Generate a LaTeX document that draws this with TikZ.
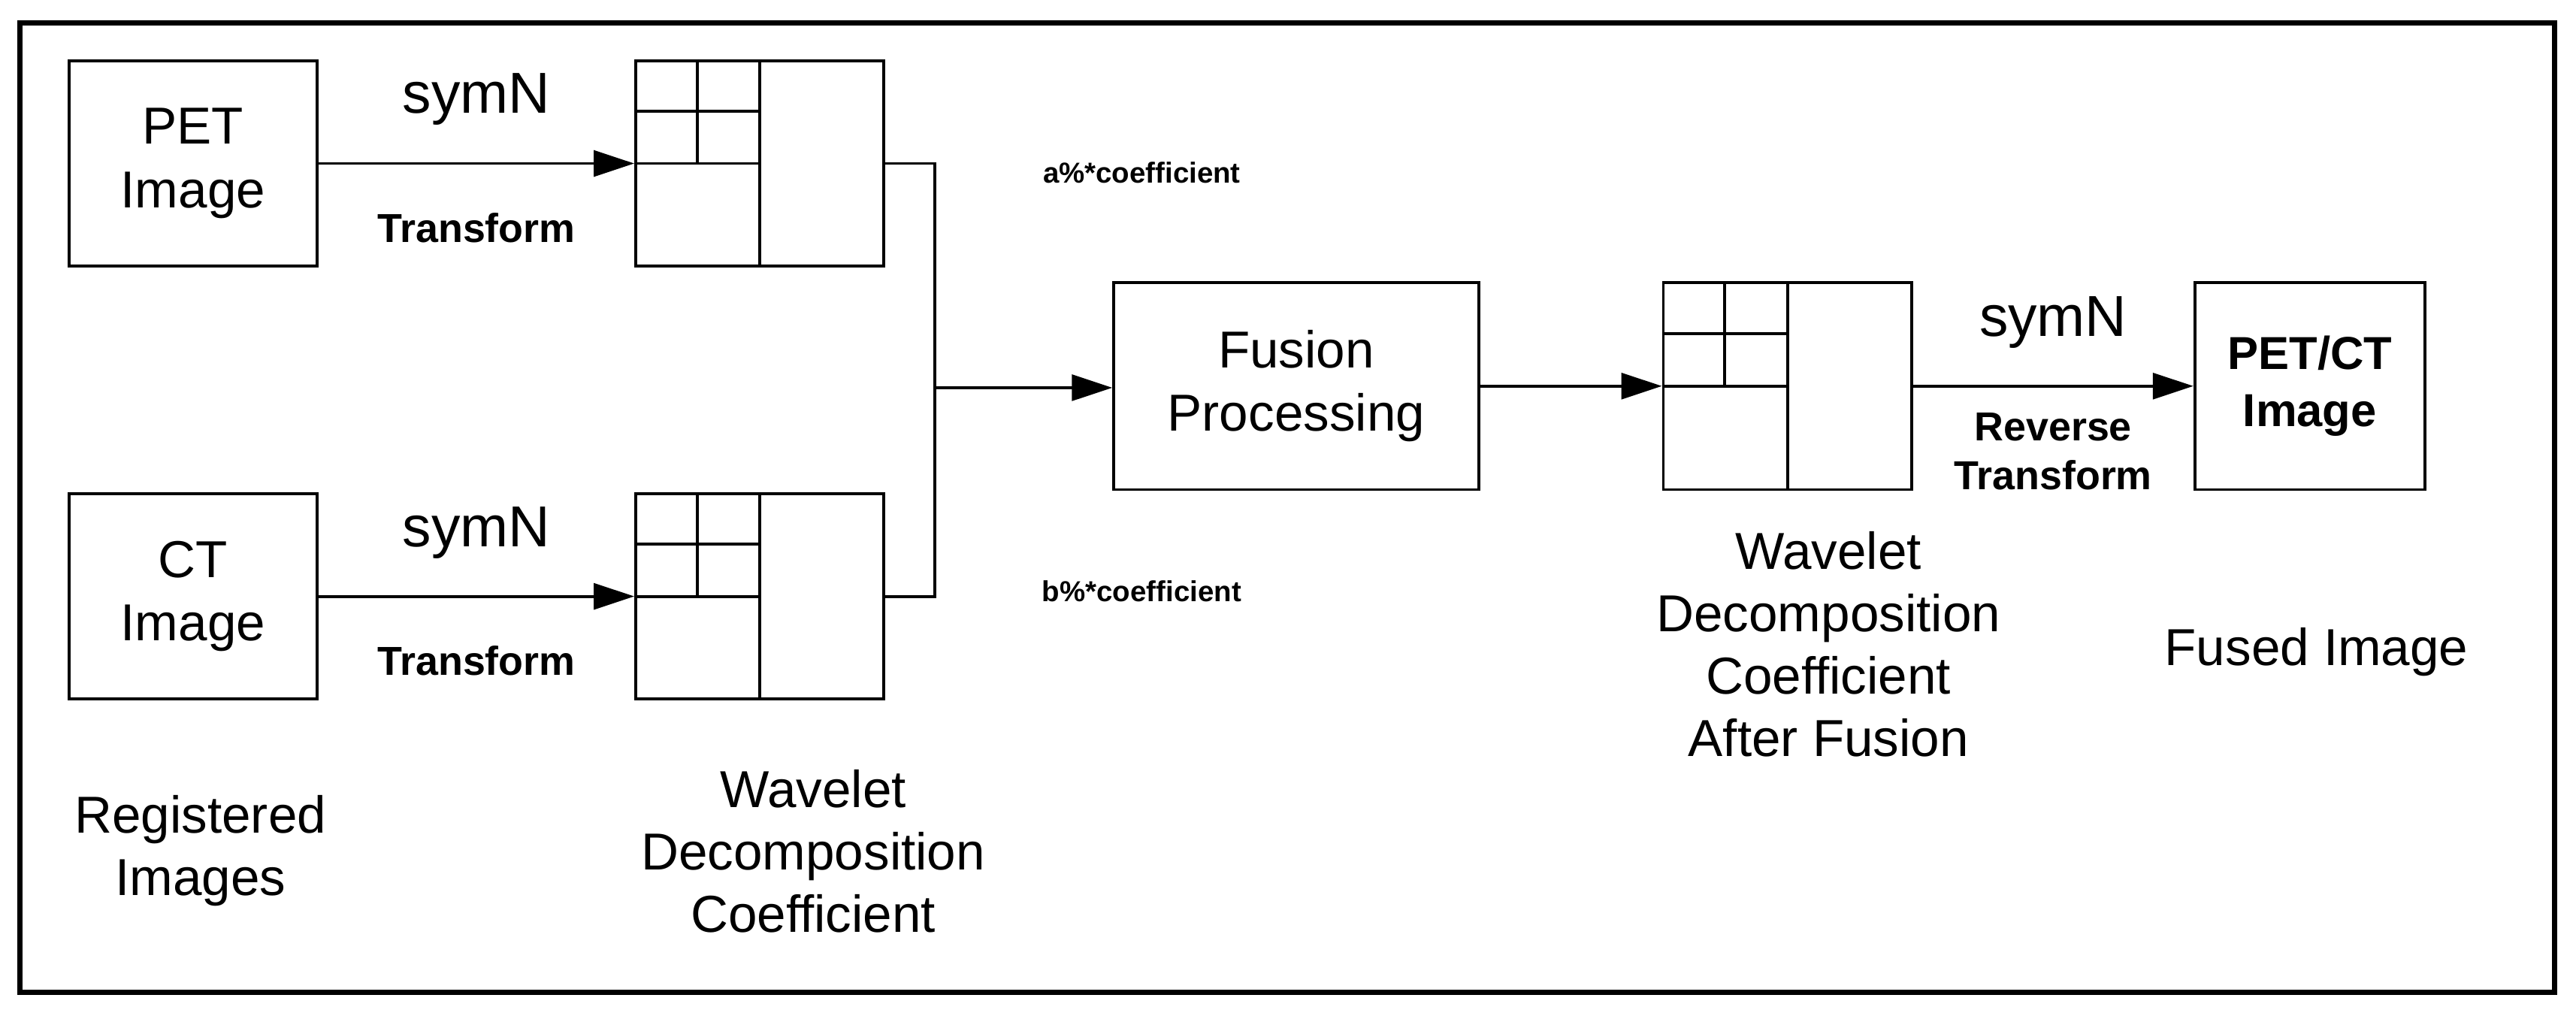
\documentclass[tikz,border=0pt]{standalone}
\usepackage{fontspec}
\setmainfont{Liberation Sans}
\usetikzlibrary{positioning,arrows.meta,calc}

\begin{document}
\begin{tikzpicture}[
    x=0.01cm, y=-0.01cm,
    base/.style = {rectangle, draw=black, line width=0.5pt},
    img/.style = {base, minimum width=1.51cm, minimum height=1.25cm, align=center, font=\fontsize{9}{11}\selectfont},
    grid/.style = {base, minimum width=1.51cm, minimum height=1.25cm},
    lbl/.style = {align=center, font=\fontsize{9}{10.8}\selectfont},
    bold/.style = {font=\fontsize{7}{8.5}\selectfont\bfseries, align=center},
    coef/.style = {font=\fontsize{5}{6}\selectfont\bfseries},
    flow/.style = {line width=0.5pt, -{Triangle[length=7pt,width=4.5pt]}},
]

    % frame
    \useasboundingbox (0,0) rectangle (1568,618);
    \draw[line width=0.9pt] (12,14) rectangle (1555,604);

    % images
    \node[img] (pet) at (117.5,99.5) {PET\\Image};
    \node[img] (ct) at (117.5,363) {CT\\Image};
    \node[img, minimum width=2.22cm, minimum height=1.26cm] (fusion) at (789,235) {Fusion\\Processing};
    \node[img, minimum width=1.4cm, minimum height=1.26cm, font=\fontsize{8}{10}\selectfont\bfseries] (petct) at (1406,235) {PET/CT\\Image};

    % coefficient grids
    \node[grid] (g1) at (462.5,99.5) {};
    \node[grid] (g2) at (462.5,363) {};
    \node[grid, minimum height=1.26cm] (g3) at (1088,235) {};
    \foreach \g in {g1,g2,g3} {
        \draw[line width=0.5pt] (\g.north) -- (\g.south);
        \draw[line width=0.5pt] (\g.west) -- (\g.center);
        \draw[line width=0.5pt] ($(\g.north west)!0.5!(\g.north)$) -- ($(\g.west)!0.5!(\g.center)$);
        \draw[line width=0.5pt] ($(\g.north west)!0.5!(\g.west)$) -- ($(\g.north)!0.5!(\g.center)$);
    }

    % flows
    \coordinate (join) at (569,236);
    \draw[flow] (pet) -- node[above=3pt, font=\fontsize{10}{12}\selectfont] (sym1) {symN} node[below=5pt, bold] (tr1) {Transform} (g1.west);
    \draw[flow] (ct) -- node[above=3pt, font=\fontsize{10}{12}\selectfont] (sym2) {symN} node[below=5pt, bold] (tr2) {Transform} (g2.west);
    \draw[line width=0.5pt] (g1.center -| g1.east) -- (569,99.5) -- (569,363) -- (g2.center -| g2.east);
    \draw[flow] (join) -- (fusion.west |- join);
    \draw[flow] (fusion) -- (g3.west);
    \draw[flow] (g3.east) -- node[above=3pt, font=\fontsize{10}{12}\selectfont] (sym3) {symN} node[below=1pt, bold] (rev) {Reverse\\Transform} (petct.west);

    % labels
    \node[coef] (ca) at (695,105) {a\%*coefficient};
    \node[coef] (cb) at (695,360) {b\%*coefficient};
    \node[lbl] (reg) at (122,518) {Registered\\Images};
    \node[lbl] (wdc) at (495,518) {Wavelet\\Decomposition\\Coefficient};
    \node[lbl] (wdf) at (1113,392) {Wavelet\\Decomposition\\Coefficient\\After Fusion};
    \node[lbl] (fused) at (1410,397) {Fused Image};

\end{tikzpicture}
\end{document}
